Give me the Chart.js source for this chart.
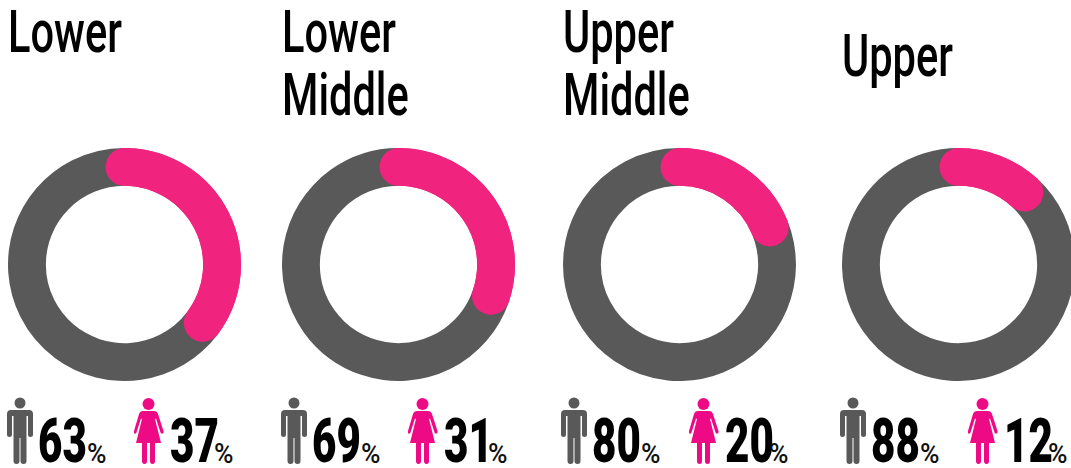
<!DOCTYPE html>
<html>
<head>
<meta charset="utf-8">
<script src="https://cdn.jsdelivr.net/npm/chart.js@4"></script>
<style>
  html, body { margin: 0; padding: 0; background: #fff; }
  #page { position: relative; width: 1071px; height: 468px; overflow: hidden; }
  canvas { position: absolute; top: 148px; }
  .title, .num, .pct {
    position: absolute; color: #000; white-space: nowrap; transform-origin: 0 0;
    font-family: Roboto, sans-serif;
  }
  .title { font-size: 59px; line-height: 62px; font-weight: 500; }
  .num { font-size: 62px; font-weight: 900; line-height: 62px; top: 410px; }
  .pct { font-size: 27px; font-weight: 500; line-height: 27px; top: 441px; color: #111; }
  svg { position: absolute; top: 397px; }
</style>
</head>
<body>
<div id="page">
  <svg width="0" height="0" style="position:absolute">
    <symbol id="man" viewBox="0 0 26 67">
      <circle cx="13" cy="6" r="5.5"/>
      <path d="M4 13h18q4 0 4 4v21q0 2-2.500 2T21 38V19h-1.500v45q0 3-3 3t-3-3V41h-1v23q0 3-3 3t-3-3V19H5v19q0 2-2.500 2T0 38V17q0-4 4-4z"/>
    </symbol>
    <symbol id="woman" viewBox="0 0 30 67">
      <circle cx="14.500" cy="7" r="6"/>
      <path d="M9 14h11q3 0 4 3l5.500 17q.5 2-1 2.500t-2-1L22 21.500 21 22l6 24h-6v18q0 3-2.500 3T16 64V46h-3v18q0 3-2.500 3T8 64V46H2l6-24-1-.5-4.500 14q-.5 1.500-2 1T0 34l5-17q1-3 4-3z"/>
    </symbol>
  </svg>
</div>
<script>
const categories = [["Lower"], ["Lower", "Middle"], ["Upper", "Middle"], ["Upper"]];
const maleValues = [63, 69, 80, 88];
const femaleValues = [37, 31, 20, 12];
// the pink arcs in the picture run a bit shorter than the printed shares
const femaleArcs = [35.2, 30.2, 18.8, 11.8];

const grey = "#595959";
const pink = "#f0237f";
const iconPink = "#ee0a85";

const page = document.getElementById("page");

// where each group sits on the page
const chartX = [8, 282, 563, 842];
const titleX = [7.500, 282, 562.500, 841.500];
const titleY = [1, 1, 1, 25];
const manX = [7, 281, 561, 840];
const womanX = [134, 408, 689, 968];

function addText(cls, text, x, sx, y) {
  const el = document.createElement("div");
  el.className = cls;
  el.textContent = text;
  el.style.left = x + "px";
  if (y !== undefined) el.style.top = y + "px";
  el.style.transform = "scaleX(" + sx + ")";
  page.appendChild(el);
}

function addIcon(id, x, w, color) {
  const svg = document.createElementNS("http://www.w3.org/2000/svg", "svg");
  svg.setAttribute("width", w);
  svg.setAttribute("height", 67);
  svg.style.left = x + "px";
  svg.style.fill = color;
  const use = document.createElementNS("http://www.w3.org/2000/svg", "use");
  use.setAttribute("href", "#" + id);
  svg.appendChild(use);
  page.appendChild(svg);
}

// rounded caps that stick out past the ends of the pink arc
const roundCaps = {
  id: "roundCaps",
  afterDatasetsDraw(chart) {
    const arc = chart.getDatasetMeta(0).data[0];
    const p = arc.getProps(["x", "y", "startAngle", "endAngle", "innerRadius", "outerRadius"]);
    const ctx = chart.ctx;
    ctx.save();
    ctx.strokeStyle = pink;
    ctx.lineWidth = p.outerRadius - p.innerRadius;
    ctx.lineCap = "round";
    ctx.beginPath();
    ctx.arc(p.x, p.y, (p.innerRadius + p.outerRadius) / 2, p.startAngle, p.endAngle);
    ctx.stroke();
    ctx.restore();
  }
};

categories.forEach(function (lines, i) {
  const canvas = document.createElement("canvas");
  canvas.width = 233;
  canvas.height = 233;
  canvas.style.left = chartX[i] + "px";
  page.appendChild(canvas);

  new Chart(canvas.getContext("2d"), {
    type: "doughnut",
    data: {
      labels: ["Female", "Male"],
      datasets: [{
        data: [femaleArcs[i], 100 - femaleArcs[i]],
        backgroundColor: [pink, grey],
        borderWidth: 0
      }]
    },
    options: {
      responsive: false,
      animation: false,
      cutout: "67.500%",
      plugins: { legend: { display: false }, tooltip: { enabled: false } }
    },
    plugins: [roundCaps]
  });

  lines.forEach(function (line, k) {
    addText("title", line, titleX[i], 0.705, titleY[i] + k * 63);
  });

  addIcon("man", manX[i], 26, grey);
  addIcon("woman", womanX[i], 30, iconPink);
  addText("num", String(maleValues[i]), manX[i] + 30.500, 0.68);
  addText("pct", "%", manX[i] + 80, 0.98);
  addText("num", String(femaleValues[i]), womanX[i] + 35.500, 0.68);
  addText("pct", "%", womanX[i] + 80, 0.98);
});
</script>
</body>
</html>
